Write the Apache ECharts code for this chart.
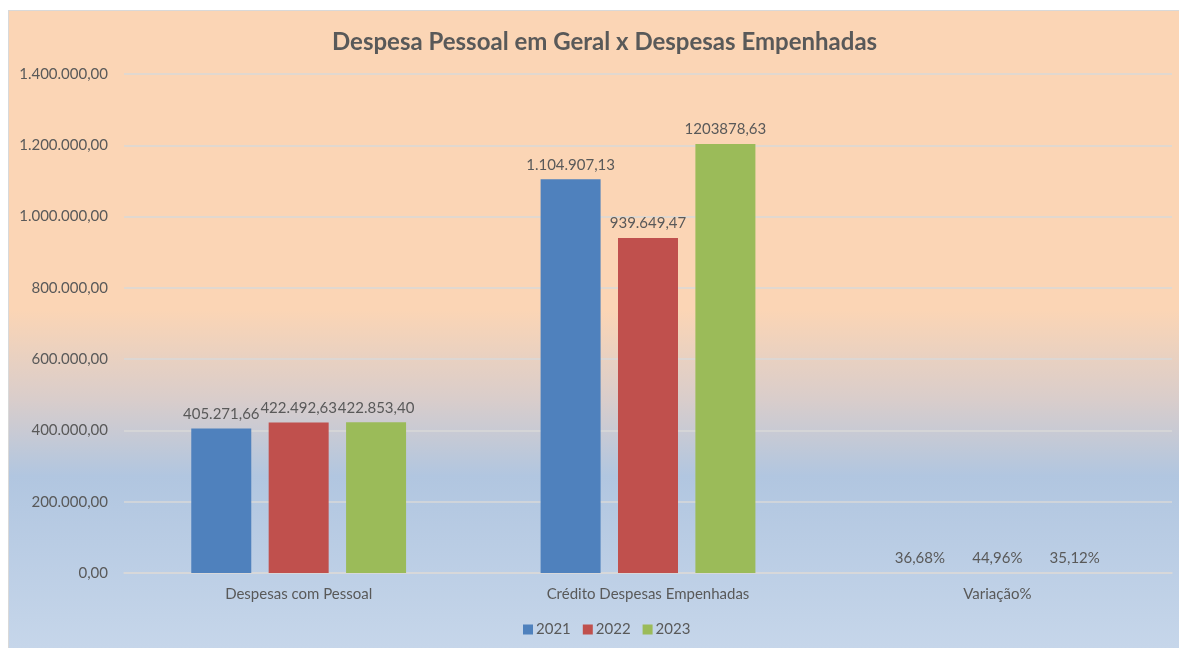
<!DOCTYPE html>
<html>
<head>
<meta charset="utf-8">
<script src="https://cdn.jsdelivr.net/npm/echarts@6/dist/echarts.min.js"></script>
<style>
  html, body { margin: 0; padding: 0; background: #ffffff; }
  #main {
    position: absolute; left: 8px; top: 10px;
    width: 1170px; height: 637px;
    border-left: 1px solid #d9d9d9; border-top: 1px solid #d9d9d9;
  }
</style>
</head>
<body>
<div id="main"></div>
<script>
var categories = ['Despesas com Pessoal', 'Crédito Despesas Empenhadas', 'Variação%'];
var seriesNames = ['2021', '2022', '2023'];
var values2021 = [405271.66, 1104907.13, 0.3668];
var values2022 = [422492.63, 939649.47, 0.4496];
var values2023 = [422853.40, 1203878.63, 0.3512];
var colors = ['#4F81BD', '#C0504D', '#9BBB59'];
// the 2023 label of the second group is shown without thousand separators
var plainLabel = { '2023': [1] };

function fmtBR(v, plain) {
    var s = v.toFixed(2).split('.');
    var int = s[0];
    if (!plain) int = int.replace(/\B(?=(\d{3})+(?!\d))/g, '.');
    return int + ',' + s[1];
}

function makeSeries(name, data, i) {
    return {
        name: name,
        type: 'bar',
        data: data,
        barWidth: 60,
        barGap: '29%',
        itemStyle: { color: colors[i] },
        label: {
            show: true,
            position: 'top',
            distance: 7,
            color: '#595959',
            fontFamily: 'Lato',
            fontSize: 15,
            formatter: function (p) {
                if (p.dataIndex === 2) return (p.value * 100).toFixed(2).replace('.', ',') + '%';
                var plain = (plainLabel[name] || []).indexOf(p.dataIndex) >= 0;
                return fmtBR(p.value, plain);
            }
        }
    };
}

var myChart = echarts.init(document.getElementById('main'));
var option = {
    backgroundColor: new echarts.graphic.LinearGradient(0, 0, 0, 1, [
        { offset: 0, color: '#FBD5B5' },
        { offset: 0.47, color: '#FBD5B5' },
        { offset: 0.61, color: '#D9CDCB' },
        { offset: 0.73, color: '#B1C6E0' },
        { offset: 1, color: '#C6D6EA' }
    ]),
    textStyle: { fontFamily: 'Lato' },
    title: {
        text: 'Despesa Pessoal em Geral x Despesas Empenhadas',
        left: 318,
        top: 14,
        textStyle: { color: '#595959', fontSize: 24, fontWeight: 'bold', fontFamily: 'Lato' }
    },
    legend: {
        data: seriesNames,
        bottom: 6,
        left: 509,
        itemWidth: 10,
        itemHeight: 10,
        itemGap: 12,
        icon: 'rect',
        textStyle: { color: '#595959', fontSize: 15, fontFamily: 'Lato', padding: [0, 0, 0, -2] }
    },
    grid: { left: 115, right: 7, top: 63, bottom: 75, containLabel: false },
    xAxis: {
        type: 'category',
        data: categories,
        axisLine: { lineStyle: { color: '#D9D9D9', width: 1.5 } },
        axisTick: { show: false },
        axisLabel: { color: '#595959', fontSize: 15, margin: 14, fontFamily: 'Lato' }
    },
    yAxis: {
        type: 'value',
        min: 0,
        max: 1400000,
        interval: 200000,
        axisLine: { show: false },
        axisTick: { show: false },
        splitLine: { lineStyle: { color: '#D9D9D9', width: 1.5 } },
        axisLabel: {
            color: '#595959', fontSize: 15, margin: 16, fontFamily: 'Lato',
            formatter: function (v) { return fmtBR(v, false); }
        }
    },
    series: [
        makeSeries(seriesNames[0], values2021, 0),
        makeSeries(seriesNames[1], values2022, 1),
        makeSeries(seriesNames[2], values2023, 2)
    ]
};
myChart.setOption(option);
</script>
</body>
</html>
